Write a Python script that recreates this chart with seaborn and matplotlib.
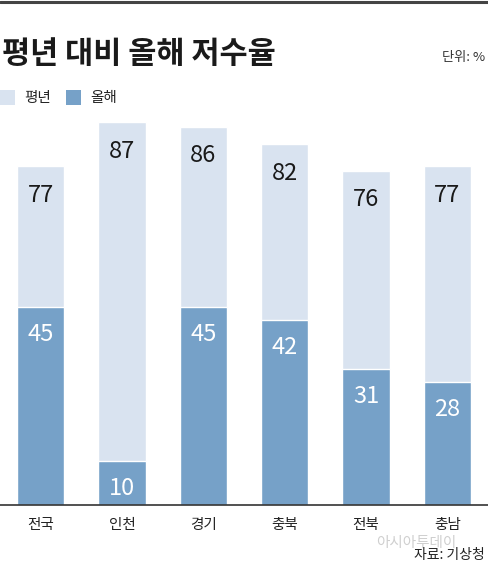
import numpy as np
import pandas as pd
import seaborn as sns
import matplotlib.pyplot as plt

regions = ["전국", "인천", "경기", "충북", "전북", "충남"]
normal_year = [77, 87, 86, 82, 76, 77]
this_year = [45, 10, 45, 42, 31, 28]

light = "#d9e3f0"
dark = "#76a1c8"

sns.set_theme(style="white")
plt.rcParams['font.family'] = ['Noto Sans CJK KR', 'DejaVu Sans']

df = pd.DataFrame({"region": regions, "normal": normal_year, "now": this_year})

fig = plt.figure(figsize=(4.88, 5.67), dpi=100)
ax = fig.add_axes([0, 0.109, 1, 0.776])

sns.barplot(data=df, x="region", y="normal", color=light, saturation=1, width=0.58, ax=ax)
sns.barplot(data=df, x="region", y="now", color=dark, saturation=1, width=0.58, ax=ax)

for i, (n, t) in enumerate(zip(normal_year, this_year)):
    ax.text(i, n - 6.6, str(n), ha="center", va="center", fontsize=17, color="#1a1a1a")
    ax.text(i, t - 6.2, str(t), ha="center", va="center", fontsize=17, color="white")

ax.set_xlim(-0.5, 5.5)
ax.set_ylim(0, 100)
ax.set(xlabel=None, ylabel=None)
ax.set_yticks([])
for s in ["top", "left", "right"]:
    ax.spines[s].set_visible(False)
ax.spines["bottom"].set_color("#333333")
ax.spines["bottom"].set_linewidth(1.2)
ax.tick_params(axis="x", which="major", length=0, labelsize=10.5, pad=9, colors="#222222")
ax.set_xticks(np.arange(0.5, 5.5, 1), minor=True)
ax.tick_params(axis="x", which="minor", length=7, width=1, color="#333333", direction="out")

# top rule
fig.add_artist(plt.Line2D([0, 1], [0.997, 0.997], color="#444444", lw=2.2, transform=fig.transFigure))

fig.text(0.004, 0.904, "평년 대비 올해 저수율", fontsize=22, fontweight="bold",
         color="#1a1a1a", ha="left", va="center")
fig.text(0.994, 0.898, "단위: %", fontsize=9.5, color="#333333", ha="right", va="center")

# legend
fig.patches.append(plt.Rectangle((0.0, 0.815), 0.031, 0.027, transform=fig.transFigure,
                                 facecolor=light, edgecolor="none"))
fig.text(0.049, 0.828, "평년", fontsize=10.5, color="#222222", ha="left", va="center")
fig.patches.append(plt.Rectangle((0.135, 0.815), 0.031, 0.027, transform=fig.transFigure,
                                 facecolor=dark, edgecolor="none"))
fig.text(0.184, 0.828, "올해", fontsize=10.5, color="#222222", ha="left", va="center")

fig.text(0.852, 0.043, "아시아투데이", fontsize=10.5, color="#bbbbbb", alpha=0.7,
         ha="center", va="center")
fig.text(0.994, 0.008, "자료: 기상청", fontsize=10, color="#222222", ha="right", va="bottom")

fig.savefig("out.png", dpi=100)
